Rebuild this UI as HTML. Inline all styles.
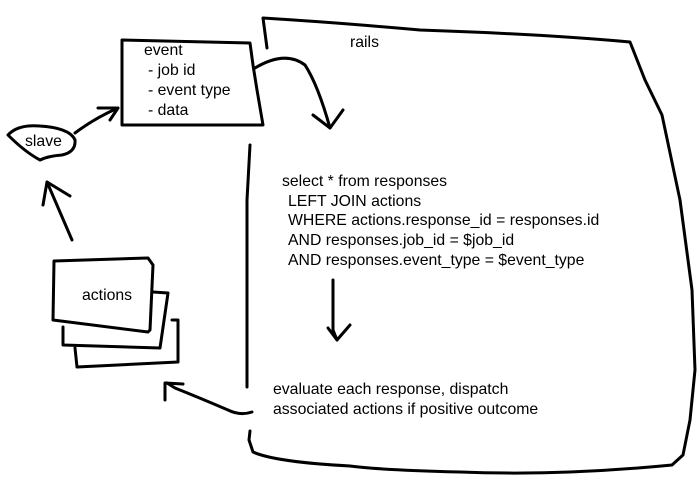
<!DOCTYPE html>
<html><head><style>
body{margin:0;background:#fff;width:700px;height:500px;overflow:hidden}
svg{position:absolute;left:0;top:0}
text{font-family:"Liberation Sans",sans-serif;font-size:15.8px;fill:#000}
</style></head><body>
<svg width="700" height="500" viewBox="0 0 700 500" fill="none" stroke="#000" stroke-width="3" stroke-linecap="round" stroke-linejoin="round">
<path d="M267,48 L263,18 Q330,22 420,30 Q540,34 630,42 L645,80 L662,115 L680,200 L692,290 L695,370 L690,420 L683,455 L672,465 Q560,476 460,472 Q380,470 350,466 Q275,462 253,452 L249,440 L250,431"/>
<path d="M250,145 L247,200 L247,300 L247,387"/>
<path d="M122,40 L250,43 L253,65 L257,90 L263,125 L122,125 Z"/>
<path d="M255,68 Q285,50 305,65 Q318,85 330,128"/>
<path d="M313,115 L330,128 L343,110"/>
<path d="M8,135 Q18,124 40,126 Q70,128 75,140 Q76,152 62,155 Q48,156 40,160 Q25,152 8,135 Z"/>
<path d="M75,133 Q95,118 118,108"/>
<path d="M98,108 L118,108 L110,120"/>
<path d="M72,240 L47,182"/>
<path d="M43,205 L47,182 L70,196"/>
<path d="M153,292 L168,293 L160,348 L63,345 L63,327"/>
<path d="M172,320 L178,320 L178,362 L77,367 L75,348"/>
<path d="M54,261 L148,258 L153,265 L150,330 L148,332 L53,320 Z"/>
<path d="M252,412 Q240,416 228,410 Q200,398 175,388 L167,383"/>
<path d="M165,400 L165,383 L183,384"/>
<path d="M333,280 L333,330 L337,340"/>
<path d="M328,328 L337,340 L350,325"/>
</svg>
<svg width="700" height="500" viewBox="0 0 700 500">
<text x="144" y="55">event</text>
<text x="148" y="75">- job id</text>
<text x="148" y="95">- event type</text>
<text x="148" y="115">- data</text>
<text x="25" y="146">slave</text>
<text x="82" y="300">actions</text>
<text x="350" y="47">rails</text>
<text x="282" y="186">select * from responses</text>
<text x="288" y="206">LEFT JOIN actions</text>
<text x="288" y="225">WHERE actions.response_id = responses.id</text>
<text x="288" y="245">AND responses.job_id = $job_id</text>
<text x="288" y="265">AND responses.event_type = $event_type</text>
<text x="273" y="394">evaluate each response, dispatch</text>
<text x="273" y="414">associated actions if positive outcome</text>
</svg>
</body></html>
